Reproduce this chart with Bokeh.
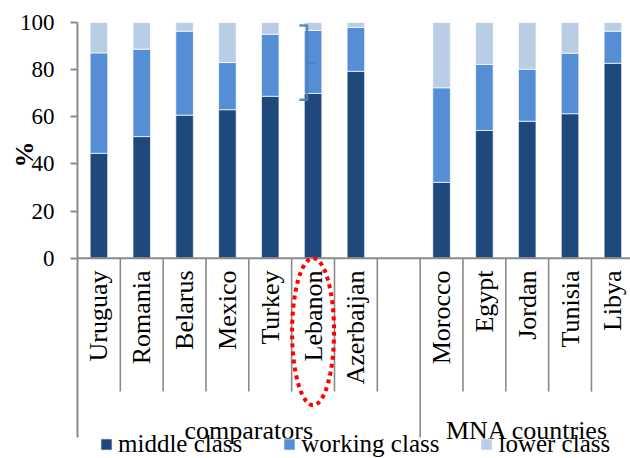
import numpy as np
from bokeh.plotting import figure
from bokeh.models import ColumnDataSource, FixedTicker, Range1d, Label
from bokeh.core.properties import value
from bokeh.embed import file_html
from bokeh.resources import INLINE

# ---- data ----
comparators = ["Uruguay", "Romania", "Belarus", "Mexico", "Turkey", "Lebanon", "Azerbaijan"]
mna = ["Morocco", "Egypt", "Jordan", "Tunisia", "Libya"]
groups = ["comparators", "MNA countries"]
middle_class = [44.5, 51.6, 60.7, 63.0, 68.7, 69.9, 79.3, 32.2, 54.2, 58.1, 61.3, 82.7]
working_class = [42.6, 37.1, 35.6, 20.0, 26.3, 26.7, 18.6, 40.1, 28.0, 22.1, 25.7, 13.6]
lower_class = [12.9, 11.3, 3.7, 17.0, 5.0, 3.4, 2.1, 27.7, 17.8, 19.8, 13.0, 3.7]
series = ["middle class", "working class", "lower class"]
colors = ["#1F497D", "#558ED5", "#B9CDE5"]
y_ticks = [0, 20, 40, 60, 80, 100]
highlight = "Lebanon"
bracket_range = [67.2, 98.7]

FONT = value("Liberation Serif")
GRAY = "#8A8A8A"

# slot layout: comparators, one blank slot, then MNA countries
comp_slots = len(comparators) + 1
mna_slots = len(mna)
total_slots = comp_slots + mna_slots
countries = comparators + mna
xpos = [i + 0.5 for i in range(len(comparators))] + [comp_slots + i + 0.5 for i in range(len(mna))]

src = ColumnDataSource(dict(x=xpos, country=countries,
                            **{series[0]: middle_class, series[1]: working_class, series[2]: lower_class}))

# frame covers the whole canvas; scales chosen so the value axis sits at 77px
W, H = 630, 458
px_per_slot = 42.83
px_per_unit = 2.357
axis_x, zero_y, top_y = 77, 257.7, 22
x0 = -axis_x / px_per_slot
y1 = 100 + top_y / px_per_unit
y0 = -(H - zero_y) / px_per_unit

p = figure(width=W, height=H, output_backend="svg", toolbar_location=None,
           x_range=Range1d(x0, x0 + W / px_per_slot), y_range=Range1d(y0, y1),
           x_axis_location=None,
           min_border_left=0, min_border_right=0, min_border_top=0, min_border_bottom=0)
p.outline_line_color = None
p.grid.visible = False
p.background_fill_color = "white"

p.vbar_stack(series, x="x", width=0.41, source=src, color=colors,
             line_color="white", line_width=1, line_alpha=0.7,
             legend_label=series)

# y axis, pinned at x = 0
ya = p.yaxis[0]
ya.fixed_location = 0
ya.ticker = FixedTicker(ticks=y_ticks)
ya.minor_tick_line_color = None
ya.axis_line_color = None
ya.major_tick_line_color = GRAY
ya.major_tick_line_width = 2
ya.major_tick_out = 7
ya.major_tick_in = 0
ya.major_label_standoff = 16
ya.major_label_text_font = "Liberation Serif"
ya.major_label_text_font_size = "23px"
ya.major_label_text_color = "black"

p.add_layout(Label(x=-1.237, y=44.0, text="%", angle=np.pi / 2, text_align="center",
                   text_baseline="middle", text_font="Liberation Serif",
                   text_font_size="26px", text_font_style="bold", text_color="black"))

# category axis drawn by hand
short_y = -56.6
long_y = -76.1
p.segment(x0=[0], y0=[0], x1=[total_slots], y1=[0], line_color=GRAY, line_width=2)
p.segment(x0=[0], y0=[100], x1=[0], y1=[long_y], line_color=GRAY, line_width=2)
short_b = [b for b in range(1, total_slots) if b != comp_slots]
p.segment(x0=short_b, y0=[0] * len(short_b), x1=short_b, y1=[short_y] * len(short_b),
          line_color=GRAY, line_width=1.6)
p.segment(x0=[comp_slots], y0=[0], x1=[comp_slots], y1=[long_y], line_color=GRAY, line_width=1.6)

p.text(x=xpos, y=[-5.2] * len(xpos), text=countries, angle=np.pi / 2,
       text_align="right", text_baseline="middle", text_font=FONT,
       text_font_size="26px", text_color="black")
p.text(x=[comp_slots / 2, comp_slots + mna_slots / 2], y=[-73.1, -73.1], text=groups,
       text_align="center", text_baseline="alphabetic", text_font=FONT,
       text_font_size="26px", text_color="black")

# highlight of Lebanon
hx = xpos[countries.index(highlight)]
p.ellipse(x=[hx], y=[-31.2], width=0.98, height=62.4, fill_color=None,
          line_color="red", line_width=4, line_dash="4 4")
bx0, bx1, bx2 = hx - 0.32, hx - 0.14, hx + 0.07
ymid = sum(bracket_range) / 2
p.line(x=[bx0, bx1, bx1, bx0], y=[bracket_range[1], bracket_range[1], bracket_range[0], bracket_range[0]],
       line_color="#4F81BD", line_width=2.5, line_alpha=0.9, line_join="round")
p.segment(x0=[bx1], y0=[ymid], x1=[bx2], y1=[ymid], line_color="#4F81BD", line_width=2.5, line_alpha=0.9)

# legend
leg = p.legend[0]
leg.orientation = "horizontal"
leg.location = (99, 0)
leg.glyph_width = 14
leg.glyph_height = 14
leg.label_standoff = 5
leg.spacing = 40
leg.padding = 0
leg.margin = 0
leg.border_line_color = None
leg.background_fill_alpha = 0
leg.label_text_font = "Liberation Serif"
leg.label_text_font_size = "25px"
leg.label_text_color = "black"

open("out.html", "w").write(file_html(p, INLINE))
